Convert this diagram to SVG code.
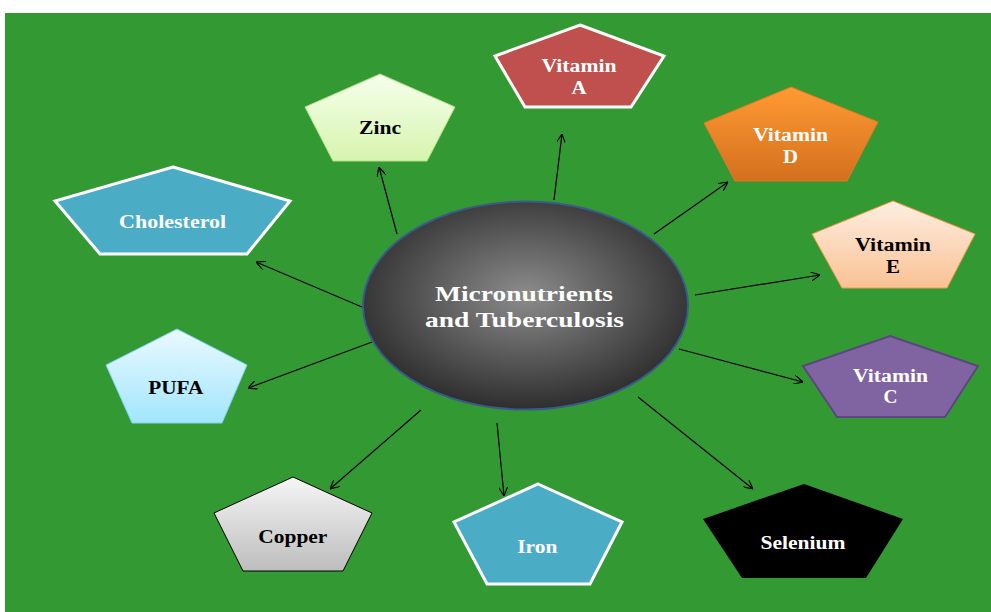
<svg xmlns="http://www.w3.org/2000/svg" width="991" height="612" viewBox="0 0 991 612">
<defs>
<style>
.t{font-family:"Liberation Serif","Times New Roman",serif;font-weight:bold;text-anchor:middle}
.w{fill:#ffffff}
.k{fill:#000000}
.c{stroke:#000;stroke-width:1.2;fill:none;marker-end:url(#ah)}
</style>
<marker id="ah" viewBox="0 0 10 10" refX="10" refY="5" markerWidth="9" markerHeight="9" markerUnits="userSpaceOnUse" orient="auto">
<path d="M0,0 L10,5 L0,10" fill="none" stroke="#000" stroke-width="1.3"/>
</marker>
<radialGradient id="gEll" cx="0.5" cy="0.45" r="0.55">
<stop offset="0" stop-color="#8c8c8c"/>
<stop offset="1" stop-color="#2e2e2e"/>
</radialGradient>
<linearGradient id="gD" x1="0" y1="0" x2="0" y2="1"><stop offset="0" stop-color="#FF9B33"/><stop offset="1" stop-color="#D46F1E"/></linearGradient>
<linearGradient id="gE" x1="0" y1="0" x2="0" y2="1"><stop offset="0" stop-color="#FEEEE2"/><stop offset="1" stop-color="#FAC294"/></linearGradient>
<linearGradient id="gP" x1="0" y1="0" x2="0" y2="1"><stop offset="0" stop-color="#EAF9FF"/><stop offset="1" stop-color="#A2E5FD"/></linearGradient>
<linearGradient id="gZ" x1="0" y1="0" x2="0" y2="1"><stop offset="0" stop-color="#F6FFEC"/><stop offset="1" stop-color="#D6F4AE"/></linearGradient>
<linearGradient id="gC" x1="0" y1="0" x2="0" y2="1"><stop offset="0" stop-color="#F6F6F6"/><stop offset="1" stop-color="#BDBDBD"/></linearGradient>
</defs>
<rect x="0" y="0" width="991" height="612" fill="#ffffff"/>
<rect x="5" y="13" width="986" height="599" fill="#339933"/>

<g id="connectors">
<line class="c" x1="397" y1="234" x2="379" y2="167"/>
<line class="c" x1="554" y1="200" x2="562" y2="134"/>
<line class="c" x1="654" y1="234" x2="728" y2="182"/>
<line class="c" x1="695" y1="295" x2="820" y2="275"/>
<line class="c" x1="679" y1="349" x2="803" y2="382"/>
<line class="c" x1="638" y1="397" x2="753" y2="489"/>
<line class="c" x1="497" y1="423" x2="504" y2="496"/>
<line class="c" x1="421" y1="410" x2="330" y2="489"/>
<line class="c" x1="372" y1="342" x2="248" y2="388"/>
<line class="c" x1="362" y1="307" x2="256" y2="262"/>
</g>

<g id="center">
<ellipse cx="525.5" cy="305.5" rx="162.5" ry="104" fill="url(#gEll)" stroke="#3A5A8C" stroke-width="2"/>
<text class="t w" x="524" y="301" font-size="21" textLength="178" lengthAdjust="spacingAndGlyphs">Micronutrients</text>
<text class="t w" x="524.5" y="326.5" font-size="21" textLength="199" lengthAdjust="spacingAndGlyphs">and Tuberculosis</text>
</g>

<g id="vitaminA">
<polygon points="580,25 664,56 631,107 525,107 495,56" fill="#C0504D" stroke="#ffffff" stroke-width="3" stroke-linejoin="miter"/>
<text class="t w" x="579" y="72" font-size="18" textLength="75" lengthAdjust="spacingAndGlyphs">Vitamin</text>
<text class="t w" x="579" y="94" font-size="18" textLength="15" lengthAdjust="spacingAndGlyphs">A</text>
</g>

<g id="vitaminD">
<polygon points="791,87 878,122 847,181 735,181 704,123" fill="url(#gD)" stroke="#E07A22" stroke-width="1"/>
<text class="t w" x="790.5" y="141" font-size="18" textLength="75" lengthAdjust="spacingAndGlyphs">Vitamin</text>
<text class="t w" x="790.5" y="163" font-size="18" textLength="15" lengthAdjust="spacingAndGlyphs">D</text>
</g>

<g id="vitaminE">
<polygon points="893,201 975,234 947,288 842,288 812,234" fill="url(#gE)" stroke="#F79646" stroke-width="1"/>
<text class="t k" x="893" y="251" font-size="18" textLength="76" lengthAdjust="spacingAndGlyphs">Vitamin</text>
<text class="t k" x="893" y="273" font-size="18" textLength="14" lengthAdjust="spacingAndGlyphs">E</text>
</g>

<g id="vitaminC">
<polygon points="890,336 978,366 945,417 837,417 803,366" fill="#8064A2" stroke="#5C4680" stroke-width="2"/>
<text class="t w" x="890.5" y="382" font-size="18" textLength="75" lengthAdjust="spacingAndGlyphs">Vitamin</text>
<text class="t w" x="890.5" y="403" font-size="18" textLength="14" lengthAdjust="spacingAndGlyphs">C</text>
</g>

<g id="selenium">
<polygon points="804,484 903,519 866,578 742,578 703,519" fill="#000000"/>
<text class="t w" x="803" y="549" font-size="18" textLength="85" lengthAdjust="spacingAndGlyphs">Selenium</text>
</g>

<g id="iron">
<polygon points="538,484 622,522 590,584 487,584 454,522" fill="#4BACC6" stroke="#ffffff" stroke-width="3"/>
<text class="t w" x="537.3" y="553" font-size="18" textLength="40" lengthAdjust="spacingAndGlyphs">Iron</text>
</g>

<g id="copper">
<polygon points="293,477 372,513 343,571 243,571 214,513" fill="url(#gC)" stroke="#000000" stroke-width="1"/>
<text class="t k" x="292.8" y="543" font-size="18" textLength="69" lengthAdjust="spacingAndGlyphs">Copper</text>
</g>

<g id="pufa">
<polygon points="177,329 247,365 222,423 132,423 106,365" fill="url(#gP)" stroke="#7FD3F0" stroke-width="1"/>
<text class="t k" x="175.8" y="394" font-size="18" textLength="55" lengthAdjust="spacingAndGlyphs">PUFA</text>
</g>

<g id="cholesterol">
<polygon points="173,167 290,201 247,254 100,254 55,201" fill="#4BACC6" stroke="#ffffff" stroke-width="3"/>
<text class="t w" x="172.6" y="228" font-size="18" textLength="107" lengthAdjust="spacingAndGlyphs">Cholesterol</text>
</g>

<g id="zinc">
<polygon points="380,74 455,107 427,161 333,161 305,107" fill="url(#gZ)" stroke="#B5DE86" stroke-width="1"/>
<text class="t k" x="380" y="134" font-size="18" textLength="42" lengthAdjust="spacingAndGlyphs">Zinc</text>
</g>
</svg>
